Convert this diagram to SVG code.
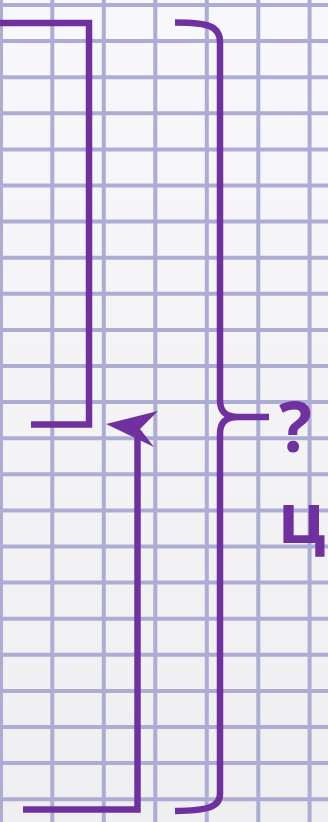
<svg xmlns="http://www.w3.org/2000/svg" width="328" height="822" viewBox="0 0 328 822">
  <defs>
    <linearGradient id="bg" x1="0" y1="0" x2="0" y2="1">
      <stop offset="0" stop-color="#f8f8fc"/>
      <stop offset="1" stop-color="#efeff1"/>
    </linearGradient>
  </defs>
  <style>
    .grid line { stroke: #acacd5; stroke-width: 4; }
    .conn { fill: none; stroke: #7030a0; stroke-width: 6.5; stroke-linejoin: miter; }
    .head { fill: #7030a0; stroke: none; }
    .lbl { font-family: "Open Sans", "Noto Sans", "DejaVu Sans", sans-serif; font-weight: bold; font-size: 69px; fill: #7030a0; }
  </style>
  <rect x="0" y="0" width="328" height="822" fill="url(#bg)"/>
  <g id="grid" class="grid">
    <line x1="1" y1="0" x2="1" y2="822"/>
    <line x1="52.3" y1="0" x2="52.3" y2="822"/>
    <line x1="103.8" y1="0" x2="103.8" y2="822"/>
    <line x1="155.3" y1="0" x2="155.3" y2="822"/>
    <line x1="206.8" y1="0" x2="206.8" y2="822"/>
    <line x1="258.3" y1="0" x2="258.3" y2="822"/>
    <line x1="309.6" y1="0" x2="309.6" y2="822"/>
    <line x1="0" y1="5" x2="328" y2="5"/>
    <line x1="0" y1="41.1" x2="328" y2="41.1"/>
    <line x1="0" y1="77.2" x2="328" y2="77.2"/>
    <line x1="0" y1="113.3" x2="328" y2="113.3"/>
    <line x1="0" y1="149.4" x2="328" y2="149.4"/>
    <line x1="0" y1="185.5" x2="328" y2="185.5"/>
    <line x1="0" y1="221.6" x2="328" y2="221.6"/>
    <line x1="0" y1="257.7" x2="328" y2="257.7"/>
    <line x1="0" y1="293.8" x2="328" y2="293.8"/>
    <line x1="0" y1="329.9" x2="328" y2="329.9"/>
    <line x1="0" y1="366" x2="328" y2="366"/>
    <line x1="0" y1="402.1" x2="328" y2="402.1"/>
    <line x1="0" y1="438.2" x2="328" y2="438.2"/>
    <line x1="0" y1="474.3" x2="328" y2="474.3"/>
    <line x1="0" y1="510.4" x2="328" y2="510.4"/>
    <line x1="0" y1="546.5" x2="328" y2="546.5"/>
    <line x1="0" y1="582.6" x2="328" y2="582.6"/>
    <line x1="0" y1="618.7" x2="328" y2="618.7"/>
    <line x1="0" y1="654.8" x2="328" y2="654.8"/>
    <line x1="0" y1="690.9" x2="328" y2="690.9"/>
    <line x1="0" y1="727" x2="328" y2="727"/>
    <line x1="0" y1="763.1" x2="328" y2="763.1"/>
    <line x1="0" y1="799.2" x2="328" y2="799.2"/>
  </g>
  <g id="connectors">
    <path class="conn" d="M0,23 H89 V424.5 H31"/>
    <path class="conn" d="M23,809.5 H137.5 V432"/>
    <polygon class="head" points="106,424 158,411 140,429 154,447"/>
    <path class="conn" d="M175,22.5 C208,22.5 220,26 220,42 V400 C220,412 226,417 238,417 H269 M238,417 C226,417 220,422 220,434 V794 C220,807 208,810.5 175,811"/>
  </g>
  <g id="node-question">
    <text class="lbl" x="279" y="452">?</text>
  </g>
  <g id="node-ts">
    <text class="lbl" x="278" y="543">ц</text>
  </g>
</svg>
